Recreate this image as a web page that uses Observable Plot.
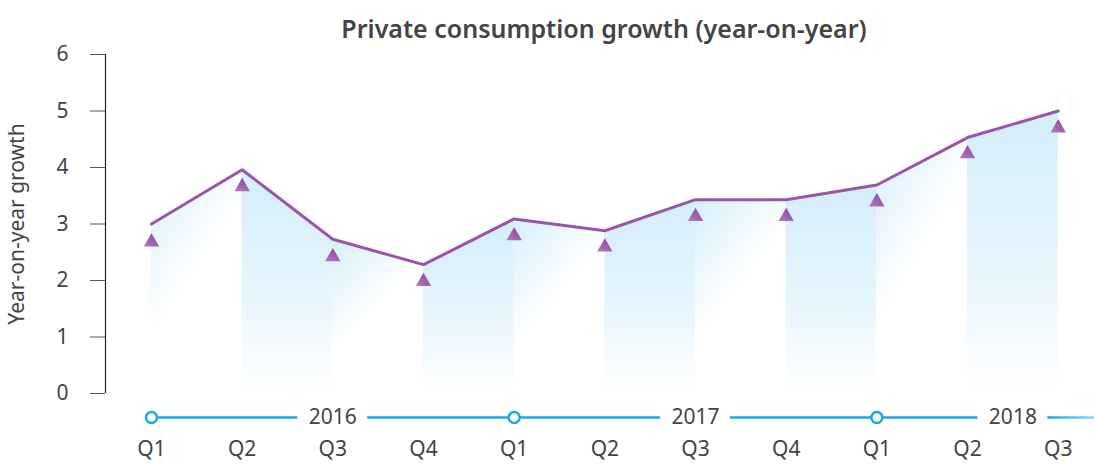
<!DOCTYPE html>
<html>
<head>
<meta charset="utf-8">
<script src="https://cdn.jsdelivr.net/npm/d3@7"></script>
<script src="https://cdn.jsdelivr.net/npm/@observablehq/plot@0.6"></script>
<style>
  html, body { margin: 0; padding: 0; background: #fff; }
  #chart { width: 1094px; height: 464px; }
</style>
</head>
<body>
<div id="chart"></div>
<script>
// ---- data ----
const titleText = "Private consumption growth (year-on-year)";
const yLabel = "Year-on-year growth";
const quarters = ["Q1", "Q2", "Q3", "Q4", "Q1", "Q2", "Q3", "Q4", "Q1", "Q2", "Q3"];
const lineValues = [3.00, 3.96, 2.73, 2.28, 3.09, 2.88, 3.43, 3.43, 3.69, 4.53, 5.00];
const triangleValues = [2.68, 3.66, 2.42, 1.98, 2.79, 2.59, 3.13, 3.13, 3.39, 4.24, 4.70];
const years = ["2016", "2017", "2018"];
const yearLabelPos = [2, 6, 9.5];       // quarter index where each year label sits
const yearStartIdx = [0, 4, 8];          // Q1 of each year
const yTicks = [0, 1, 2, 3, 4, 5, 6];

// ---- derived tables ----
const idx = quarters.map((_, i) => i);
const areaRows = [];
for (let i = 0; i < lineValues.length - 1; i++) {
  areaRows.push({seg: i, x: i, y: lineValues[i]});
  areaRows.push({seg: i, x: i + 1, y: lineValues[i + 1]});
}
const xDomain = [-0.507, 10.4];
const gapHalf = 0.385;
const tlSegs = [];
let start = 0;
yearLabelPos.forEach(p => { tlSegs.push({x1: start, x2: p - gapHalf}); start = p + gapHalf; });
tlSegs.push({x1: start, x2: xDomain[1], last: true});

const purple = "#9a55a4";
const cyan = "#1aa9e2";
const textColor = "#444";
const font = "'Noto Sans', 'Open Sans', sans-serif";

const plot = Plot.plot({
  width: 1094,
  height: 464,
  marginTop: 54,
  marginBottom: 71,
  marginLeft: 105,
  marginRight: 0,
  style: {fontFamily: font, fontSize: "20px", color: textColor, background: "#fff"},
  x: {type: "linear", domain: xDomain},
  y: {domain: [0, 6]},
  marks: [
    Plot.areaY(areaRows.filter(d => d.seg % 2 === 0), {x: "x", y: "y", z: "seg", fill: "url(#gDiag)"}),
    Plot.areaY(areaRows.filter(d => d.seg % 2 === 1), {x: "x", y: "y", z: "seg", fill: "url(#gVert)"}),
    Plot.ruleX([xDomain[0]], {y1: 0, y2: 6, stroke: "#222", strokeWidth: 1.2}),
    Plot.axisY({ticks: yTicks, tickSize: 15, tickPadding: 22, stroke: "#555", fontSize: 21,
      tickFormat: d3.format("d"),
      label: yLabel, labelAnchor: "center", labelArrow: "none", labelOffset: 96}),
    Plot.axisX({ticks: idx, tickSize: 0, tickPadding: 48, fontSize: 21, tickFormat: i => quarters[i], label: null}),
    Plot.lineY(lineValues.map((v, i) => ({x: i, y: v})), {x: "x", y: "y", stroke: purple, strokeWidth: 3, strokeLinejoin: "miter"}),
    Plot.dot(triangleValues.map((v, i) => ({x: i, y: v})), {x: "x", y: "y", symbol: "triangle", r: 5.7, fill: "url(#gTri)", stroke: "none"}),
    Plot.ruleY(tlSegs.filter(d => !d.last), {y: 0, x1: "x1", x2: "x2", dy: 24, stroke: cyan, strokeWidth: 2.5}),
    Plot.ruleY(tlSegs.filter(d => d.last), {y: 0, x1: "x1", x2: "x2", dy: 24, stroke: "url(#gTL)", strokeWidth: 2.5}),
    Plot.dot(yearStartIdx, {x: d => d, y: 0, dy: 24, r: 5.5, fill: "white", stroke: cyan, strokeWidth: 2.5}),
    Plot.text(years, {x: (d, i) => yearLabelPos[i], y: 0, dy: 24, text: d => d, fontSize: 21, fill: textColor}),
    Plot.text([titleText], {frameAnchor: "top", dy: -34, dx: 4, fontSize: 25, fontWeight: 600, fill: textColor})
  ]
});

// gradients
const xs = plot.scale("x");
const svg = d3.select(plot.tagName === "svg" ? plot : plot.querySelector("svg"));
const defs = svg.insert("defs", ":first-child");
const gV = defs.append("linearGradient").attr("id", "gVert").attr("x1", 0).attr("y1", 0).attr("x2", 0).attr("y2", 1);
gV.append("stop").attr("offset", 0).attr("stop-color", "#d3eefa");
gV.append("stop").attr("offset", 0.6).attr("stop-color", "#e9f6fd");
gV.append("stop").attr("offset", 1).attr("stop-color", "#ffffff");
const gD = defs.append("linearGradient").attr("id", "gDiag").attr("x1", 0).attr("y1", 0).attr("x2", 0.6).attr("y2", 1);
gD.append("stop").attr("offset", 0).attr("stop-color", "#d6effa");
gD.append("stop").attr("offset", 0.55).attr("stop-color", "#ffffff");
gD.append("stop").attr("offset", 1).attr("stop-color", "#ffffff");
const gT = defs.append("linearGradient").attr("id", "gTri").attr("x1", 0.7).attr("y1", 0).attr("x2", 0).attr("y2", 1);
gT.append("stop").attr("offset", 0).attr("stop-color", "#8f45a0");
gT.append("stop").attr("offset", 1).attr("stop-color", "#b27cbb");
const fadeStart = xs.apply(tlSegs[tlSegs.length - 1].x1);
const fadeEnd = xs.apply(xDomain[1]);
const gL = defs.append("linearGradient").attr("id", "gTL").attr("gradientUnits", "userSpaceOnUse")
  .attr("x1", fadeStart).attr("y1", 0).attr("x2", fadeEnd).attr("y2", 0);
gL.append("stop").attr("offset", 0).attr("stop-color", cyan);
gL.append("stop").attr("offset", 1).attr("stop-color", "#8fd6f2");

document.getElementById("chart").appendChild(plot);
</script>
</body>
</html>
